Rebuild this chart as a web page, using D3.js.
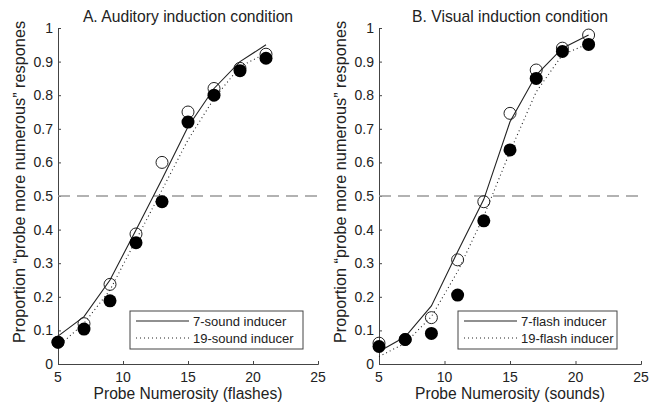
<!DOCTYPE html>
<html>
<head>
<meta charset="utf-8">
<script src="https://cdn.jsdelivr.net/npm/d3@7"></script>
<style>
  body { margin: 0; background: #fff; }
  text { fill: #222; }
</style>
</head>
<body>
<svg id="chart"></svg>
<script>
// probe numerosities
const probes = [5, 7, 9, 11, 13, 15, 17, 19, 21];

// A. auditory induction
const audOpen   = [0.065, 0.12, 0.237, 0.387, 0.60, 0.75, 0.82, 0.88, 0.922];
const audFilled = [0.065, 0.104, 0.188, 0.361, 0.483, 0.72, 0.80, 0.873, 0.91];
const audFit7   = [0.083, 0.141, 0.25, 0.399, 0.55, 0.706, 0.82, 0.90, 0.95];
const audFit19  = [0.052, 0.121, 0.22, 0.369, 0.518, 0.667, 0.79, 0.885, 0.925];

// B. visual induction
const visOpen   = [0.062, 0.073, 0.138, 0.31, 0.483, 0.746, 0.875, 0.94, 0.979];
const visFilled = [0.052, 0.073, 0.091, 0.205, 0.426, 0.637, 0.85, 0.93, 0.951];
const visFit7   = [0.037, 0.081, 0.173, 0.334, 0.49, 0.721, 0.86, 0.94, 0.979];
const visFit19  = [0.022, 0.062, 0.141, 0.275, 0.44, 0.632, 0.81, 0.92, 0.954];

const xTicks = [5, 10, 15, 20, 25];
const yTicks = [0, 0.1, 0.2, 0.3, 0.4, 0.5, 0.6, 0.7, 0.8, 0.9, 1];

const panels = [
  { title: "A. Auditory induction condition", xlabel: "Probe Numerosity (flashes)",
    open: audOpen, filled: audFilled, fit7: audFit7, fit19: audFit19,
    legend: ["7-sound inducer", "19-sound inducer"], x0: 58, x1: 318, lx: 130, lw: 173 },
  { title: "B. Visual induction condition", xlabel: "Probe Numerosity (sounds)",
    open: visOpen, filled: visFilled, fit7: visFit7, fit19: visFit19,
    legend: ["7-flash inducer", "19-flash inducer"], x0: 379, x1: 641, lx: 458, lw: 159 }
];

const W = 659, H = 406;
const svg = d3.select("#chart")
    .attr("width", W)
    .attr("height", H)
    .style("font-family", "'Liberation Sans', Arial, sans-serif");

const y = d3.scaleLinear().domain([0, 1]).range([364, 28]);
const fmt = d => d === 0 || d === 1 ? String(d) : d3.format(".1f")(d);

panels.forEach(p => {
    const x = d3.scaleLinear().domain([5, 25]).range([p.x0, p.x1]);
    const g = svg.append("g");

    // axes, ticks pointing inward
    g.append("g")
        .attr("transform", `translate(0,${y(0)})`)
        .call(d3.axisTop(x).tickValues(xTicks).tickSize(3).tickFormat(""))
        .call(a => a.select(".domain").attr("stroke", "#444"))
        .call(a => a.selectAll(".tick line").attr("stroke", "#444"));
    g.selectAll(".xlab")
        .data(xTicks)
        .join("text")
        .attr("x", d => x(d))
        .attr("y", 382)
        .attr("text-anchor", "middle")
        .attr("font-size", 14)
        .text(d => d);

    g.append("g")
        .attr("transform", `translate(${x(5)},0)`)
        .call(d3.axisRight(y).tickValues(yTicks).tickSize(3).tickFormat(""))
        .call(a => a.select(".domain").attr("stroke", "#444"))
        .call(a => a.selectAll(".tick line").attr("stroke", "#444"));
    g.selectAll(".ylab")
        .data(yTicks)
        .join("text")
        .attr("x", x(5) - 5)
        .attr("y", d => y(d) + 5)
        .attr("text-anchor", "end")
        .attr("font-size", 14)
        .text(fmt);

    // chance line
    g.append("line")
        .attr("x1", x(5)).attr("x2", x(25))
        .attr("y1", y(0.5)).attr("y2", y(0.5))
        .attr("stroke", "#999")
        .attr("stroke-width", 1.5)
        .attr("stroke-dasharray", "12,7");

    const line = d3.line()
        .x((d, i) => x(probes[i]))
        .y(d => y(d));

    g.append("path")
        .attr("d", line(p.fit7))
        .attr("fill", "none")
        .attr("stroke", "#222")
        .attr("stroke-width", 1.1);
    g.append("path")
        .attr("d", line(p.fit19))
        .attr("fill", "none")
        .attr("stroke", "#222")
        .attr("stroke-width", 1.1)
        .attr("stroke-dasharray", "1,3");

    g.selectAll(".open")
        .data(p.open)
        .join("circle")
        .attr("cx", (d, i) => x(probes[i]))
        .attr("cy", d => y(d))
        .attr("r", 6)
        .attr("fill", "none")
        .attr("stroke", "#222")
        .attr("stroke-width", 1);
    g.selectAll(".filled")
        .data(p.filled)
        .join("circle")
        .attr("cx", (d, i) => x(probes[i]))
        .attr("cy", d => y(d))
        .attr("r", 6.5)
        .attr("fill", "#000");

    // titles and labels
    g.append("text")
        .attr("x", (p.x0 + p.x1) / 2)
        .attr("y", 22)
        .attr("text-anchor", "middle")
        .attr("font-size", 15.7)
        .text(p.title);
    g.append("text")
        .attr("x", (p.x0 + p.x1) / 2)
        .attr("y", 399)
        .attr("text-anchor", "middle")
        .attr("font-size", 15.6)
        .text(p.xlabel);
    g.append("text")
        .attr("transform", `translate(${p.x0 - 33},${(y(0) + y(1)) / 2 - 14}) rotate(-90)`)
        .attr("text-anchor", "middle")
        .attr("font-size", 16.3)
        .text("Proportion \u201Cprobe more numerous\u201D respones");

    // legend
    const lx = p.lx, ly = 311;
    const leg = g.append("g");
    leg.append("rect")
        .attr("x", lx).attr("y", ly)
        .attr("width", p.lw).attr("height", 38)
        .attr("fill", "#fff")
        .attr("stroke", "#444");
    p.legend.forEach((t, i) => {
        leg.append("line")
            .attr("x1", lx + 6).attr("x2", lx + 59)
            .attr("y1", ly + 10 + i * 17).attr("y2", ly + 10 + i * 17)
            .attr("stroke", "#222")
            .attr("stroke-width", 1.1)
            .attr("stroke-dasharray", i ? "1,3" : null);
        leg.append("text")
            .attr("x", lx + 63)
            .attr("y", ly + 15 + i * 17)
            .attr("font-size", 13)
            .text(t);
    });
});
</script>
</body>
</html>
